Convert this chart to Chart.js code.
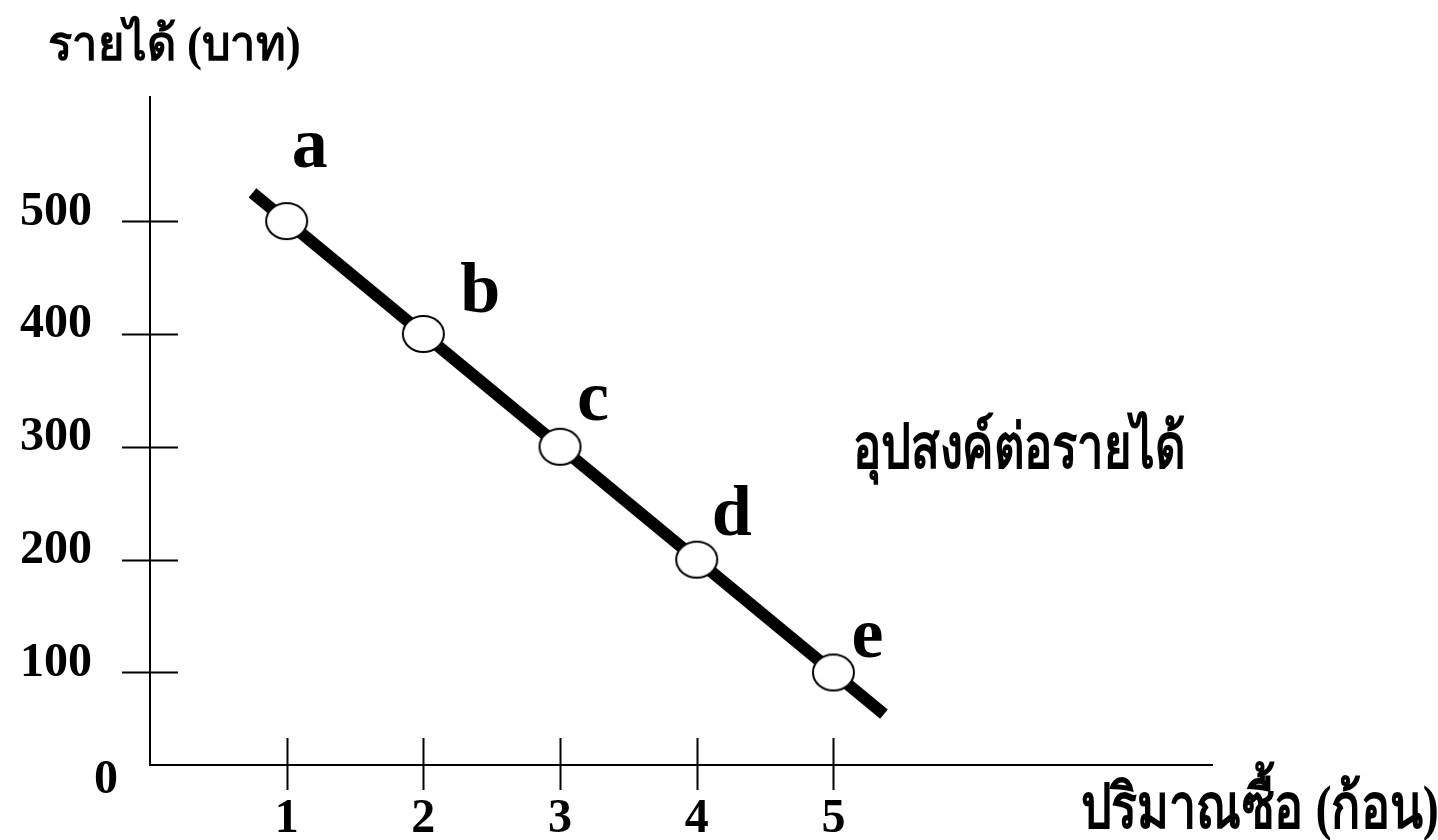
<!DOCTYPE html>
<html>
<head>
<meta charset="utf-8">
<script src="https://cdn.jsdelivr.net/npm/chart.js@4.4.1/dist/chart.umd.min.js"></script>
<style>
  html, body { margin: 0; padding: 0; background: #ffffff; }
  #wrap { width: 1438px; height: 840px; position: relative; }
</style>
</head>
<body>
<div id="wrap"><canvas id="c"></canvas></div>
<script>
// Income-demand schedule: quantity bought at each income level
const quantities = [1, 2, 3, 4, 5];
const incomes = [500, 400, 300, 200, 100];
const pointNames = ['a', 'b', 'c', 'd', 'e'];

// Ends of the drawn demand line (it runs a little past a and e)
const curveX = [0.75, 5.37];
const curveY = [525, 63];

// Axis ticks
const xTickValues = [1, 2, 3, 4, 5];
const yTickValues = [100, 200, 300, 400, 500];

// Texts
const yAxisTitle = 'รายได้ (บาท)';
const xAxisTitle = 'ปริมาณซื้อ (ก้อน)';
const curveName = 'อุปสงค์ต่อรายได้';
const originLabel = '0';

const SERIF = '"Liberation Serif", "Times New Roman", serif';
const THAI = '"Liberation Serif", serif';

// White ellipse with a thin black rim, used as the point marker
function ellipseMarker(w, h) {
  const c = document.createElement('canvas');
  c.width = w + 4; c.height = h + 4;
  const g = c.getContext('2d');
  g.beginPath();
  g.ellipse(c.width / 2, c.height / 2, w / 2, h / 2, 0, 0, Math.PI * 2);
  g.fillStyle = '#ffffff';
  g.fill();
  g.lineWidth = 2;
  g.strokeStyle = '#000000';
  g.stroke();
  return c;
}

// Tall, narrow Thai lettering: draw with a horizontal squeeze
function thaiText(ctx, text, x, baseline, size, squeeze) {
  ctx.save();
  ctx.translate(x, baseline);
  ctx.scale(squeeze, 1);
  ctx.font = 'bold ' + size + 'px ' + THAI;
  ctx.textAlign = 'left';
  ctx.textBaseline = 'alphabetic';
  ctx.fillText(text, 0, 0);
  ctx.restore();
}

// Tick marks that cross the axes, the origin label, point letters and free texts
const decorations = {
  id: 'decorations',
  afterDraw(chart) {
    const { ctx, chartArea, scales } = chart;
    const xs = scales.x, ys = scales.y;
    ctx.save();
    ctx.strokeStyle = '#000';
    ctx.lineWidth = 2;
    ctx.beginPath();
    yTickValues.forEach(v => {
      const py = Math.round(ys.getPixelForValue(v)) + 0.5;
      ctx.moveTo(chartArea.left - 28, py);
      ctx.lineTo(chartArea.left + 28, py);
    });
    xTickValues.forEach(v => {
      const px = Math.round(xs.getPixelForValue(v)) + 0.5;
      ctx.moveTo(px, chartArea.bottom - 27);
      ctx.lineTo(px, chartArea.bottom + 25);
    });
    ctx.stroke();

    ctx.fillStyle = '#000';
    ctx.textAlign = 'center';
    ctx.textBaseline = 'alphabetic';
    ctx.font = 'bold 48px ' + SERIF;
    ctx.fillText(originLabel, chartArea.left - 44, chartArea.bottom + 28);

    // letters beside each point
    const offsets = [[23, -54], [57, -22], [33, -27], [35, -25], [34, -15]];
    const meta = chart.getDatasetMeta(1);
    ctx.font = 'bold 72px ' + SERIF;
    meta.data.forEach((pt, i) => {
      ctx.fillText(pointNames[i], pt.x + offsets[i][0], pt.y + offsets[i][1]);
    });

    thaiText(ctx, yAxisTitle, 48, 60, 48, 0.94);
    thaiText(ctx, curveName, 853, 468, 62, 0.76);
    thaiText(ctx, xAxisTitle, 1081, 828, 62, 0.78);
    ctx.restore();
  }
};

new Chart(document.getElementById('c'), {
  type: 'line',
  data: {
    datasets: [
      {
        label: curveName,
        data: curveX.map((x, i) => ({ x, y: curveY[i] })),
        borderColor: '#000000',
        borderWidth: 12,
        borderCapStyle: 'butt',
        pointRadius: 0,
        order: 2
      },
      {
        label: 'points',
        data: quantities.map((q, i) => ({ x: q, y: incomes[i] })),
        showLine: false,
        pointStyle: ellipseMarker(41, 36),
        pointRadius: 21,
        order: 1
      }
    ]
  },
  options: {
    responsive: true,
    maintainAspectRatio: false,
    animation: false,
    layout: { padding: { top: 97, right: 226, left: 0, bottom: 0 } },
    plugins: { legend: { display: false }, tooltip: { enabled: false } },
    scales: {
      x: {
        type: 'linear',
        min: 0,
        max: 7.77,
        afterFit: s => { s.height = 75; s.paddingLeft = 0; s.paddingRight = 0; },
        afterBuildTicks: s => { s.ticks = xTickValues.map(v => ({ value: v })); },
        grid: { drawOnChartArea: false, drawTicks: false },
        border: { display: true, color: '#000', width: 2 },
        ticks: {
          color: '#000',
          padding: 26,
          font: { family: SERIF, size: 48, weight: 'bold' },
          maxRotation: 0,
          autoSkip: false
        }
      },
      y: {
        type: 'linear',
        min: 18,
        max: 610,
        afterFit: s => { s.width = 150; s.paddingTop = 0; s.paddingBottom = 0; },
        afterBuildTicks: s => { s.ticks = yTickValues.map(v => ({ value: v })); },
        grid: { drawOnChartArea: false, drawTicks: false },
        border: { display: true, color: '#000', width: 2 },
        ticks: {
          color: '#000',
          padding: 58,
          labelOffset: -9,
          font: { family: SERIF, size: 48, weight: 'bold' }
        }
      }
    }
  },
  plugins: [decorations]
});
</script>
</body>
</html>
